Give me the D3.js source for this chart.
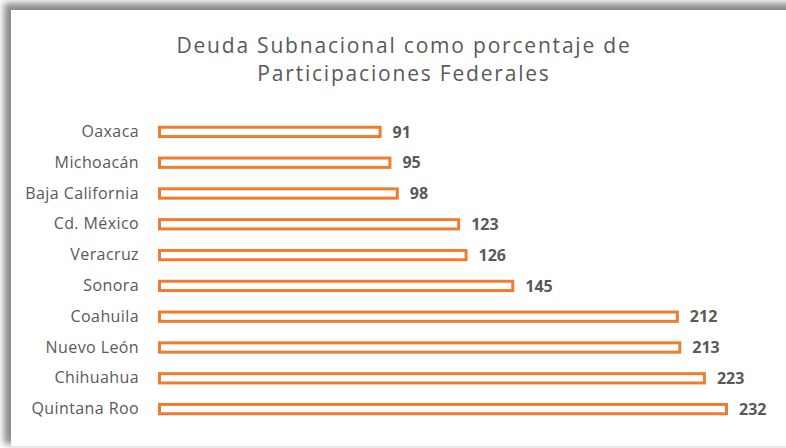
<!DOCTYPE html>
<meta charset="utf-8">
<style>
  body { margin: 0; background: #fff; }
  svg { display: block; font-family: "Open Sans", sans-serif; }
  .cat text { fill: #595959; font-size: 16px; letter-spacing: 0.4px; font-family: "Open Sans", sans-serif; }
  .value { fill: #595959; font-size: 16px; font-weight: bold; }
  .title { fill: #595959; font-size: 21px; letter-spacing: 1.8px; }
</style>
<body>
<script src="https://cdn.jsdelivr.net/npm/d3@7"></script>
<script>
  // chart data, top to bottom
  var states = ["Oaxaca", "Michoacán", "Baja California", "Cd. México", "Veracruz",
    "Sonora", "Coahuila", "Nuevo León", "Chihuahua", "Quintana Roo"];
  var values = [91, 95, 98, 123, 126, 145, 212, 213, 223, 232];
  var titleLines = ["Deuda Subnacional como porcentaje de", "Participaciones Federales"];

  var width = 786, height = 448;
  var marginLeft = 158, marginTop = 116.5, rowH = 30.8;

  var svg = d3.select("body").append("svg")
    .attr("width", width)
    .attr("height", height);

  // frame with a soft shadow on the top and left edges
  var defs = svg.append("defs");
  var f = defs.append("filter").attr("id", "blur")
    .attr("x", "-5%").attr("y", "-5%").attr("width", "110%").attr("height", "110%");
  f.append("feGaussianBlur").attr("stdDeviation", 3.5);

  svg.append("rect")
    .attr("x", 4).attr("y", 3)
    .attr("width", 900).attr("height", 441)
    .attr("fill", "#8a8a8a")
    .attr("filter", "url(#blur)");
  svg.append("rect")
    .attr("x", 11).attr("y", 10)
    .attr("width", 800).attr("height", 436)
    .attr("fill", "#fff");
  svg.append("line")
    .attr("x1", 11).attr("x2", width)
    .attr("y1", 446.5).attr("y2", 446.5)
    .attr("stroke", "#e6e6e6");

  var x = d3.scaleLinear()
    .domain([0, 232])
    .range([marginLeft, 728]);

  var y = d3.scaleBand()
    .domain(states)
    .range([marginTop, marginTop + rowH * states.length])
    .paddingInner(0.6)
    .paddingOuter(0.3);

  svg.append("g")
    .attr("class", "title")
    .selectAll("text")
    .data(titleLines)
    .enter().append("text")
    .attr("x", 404)
    .attr("y", function (d, i) { return 53 + i * 28; })
    .attr("text-anchor", "middle")
    .text(function (d) { return d; });

  var yAxis = d3.axisLeft(y).tickSize(0).tickPadding(19);
  svg.append("g")
    .attr("class", "cat")
    .attr("transform", "translate(" + marginLeft + ",0)")
    .call(yAxis)
    .call(function (g) { g.select(".domain").remove(); });

  svg.selectAll("rect.bar")
    .data(values)
    .enter().append("rect")
    .attr("class", "bar")
    .attr("x", x(0) + 1.5)
    .attr("y", function (d, i) { return y(states[i]) + 1.5; })
    .attr("width", function (d) { return x(d) - x(0) - 3; })
    .attr("height", y.bandwidth() - 3)
    .attr("fill", "#fff")
    .attr("stroke", "#ed7d31")
    .attr("stroke-width", 3);

  svg.selectAll("text.value")
    .data(values)
    .enter().append("text")
    .attr("class", "value")
    .attr("x", function (d) { return x(d) + 11; })
    .attr("y", function (d, i) { return y(states[i]) + y.bandwidth() / 2; })
    .attr("dy", "0.35em")
    .text(function (d) { return d; });
</script>
</body>
